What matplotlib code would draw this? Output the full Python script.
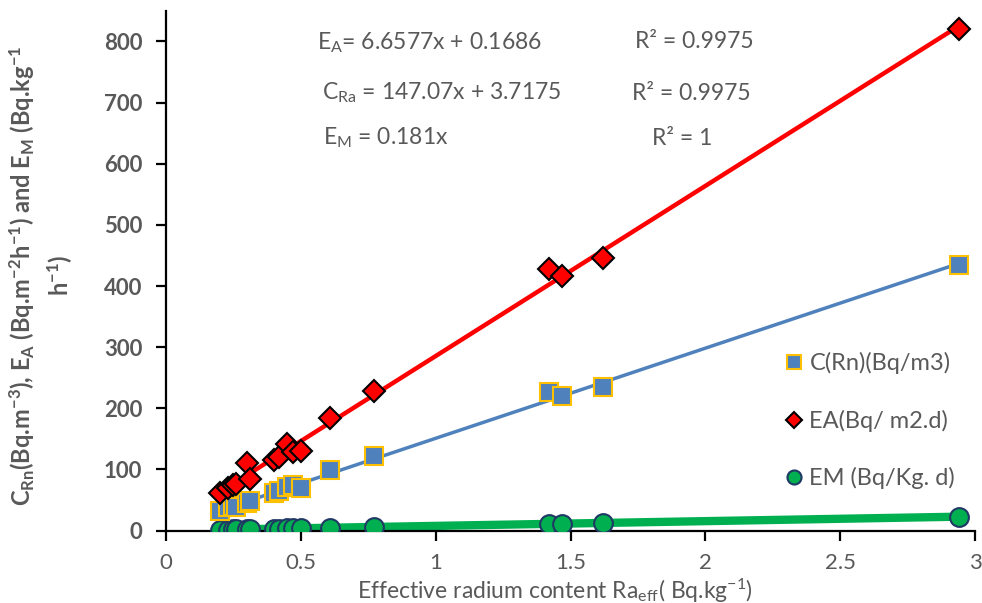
import numpy as np
import matplotlib
matplotlib.use("Agg")
from matplotlib import pyplot as plt

plt.rcParams['font.family'] = ['Lato', 'DejaVu Sans']
plt.rcParams['mathtext.default'] = 'regular'

# effective radium content (Bq/kg)
ra_eff = [0.20, 0.23, 0.25, 0.26, 0.30, 0.31, 0.40, 0.42, 0.45, 0.47, 0.50,
          0.61, 0.77, 1.42, 1.47, 1.62, 2.94]
# radon concentration C(Rn) (Bq/m3)
c_rn = [32, 38, 40, 39, 45, 48, 62, 65, 72, 74, 70, 99, 122, 226, 220, 235, 434]
# area exhalation rate EA
e_a = [61, 69, 75, 77, 110, 85, 115, 120, 142, 128, 131, 184, 228, 428, 416, 446, 820]
# mass exhalation rate EM
e_m = [1.6, 1.8, 2.0, 2.1, 2.4, 2.5, 3.2, 3.3, 3.5, 3.6, 3.9, 4.7, 6.0,
       11.1, 11.4, 12.6, 22.8]

x_ticks = [0, 0.5, 1, 1.5, 2, 2.5, 3]
x_tick_labels = ['0', '0.5', '1', '1.5', '2', '2.5', '3']
y_ticks = [0, 100, 200, 300, 400, 500, 600, 700, 800]

gray = '#595959'

fig = plt.figure(figsize=(9.82, 6.03), dpi=100)
ax = fig.add_axes([0.169, 0.12, 0.824, 0.862])

x = np.array(ra_eff)
xs = np.array([x.min(), x.max()])

# trend lines
for yv, col, lw in [(e_m, '#00B050', 6), (c_rn, '#4F81BD', 2.5), (e_a, '#FF0000', 3.2)]:
    k, b = np.polyfit(x, yv, 1)
    ax.plot(xs, k * xs + b, color=col, lw=lw, zorder=2, solid_capstyle='butt')

ax.plot(x, e_m, 'o', ms=13.5, mfc='#00B050', mec='#1F3864', mew=1.5,
        ls='none', zorder=3, label='EM (Bq/Kg. d)')
ax.plot(x, c_rn, 's', ms=13.5, mfc='#4F81BD', mec='#FFC000', mew=1.5,
        ls='none', zorder=4, label='C(Rn)(Bq/m3)')
ax.plot(x, e_a, 'D', ms=11.5, mfc='#FF0000', mec='black', mew=1.5,
        ls='none', zorder=5, label='EA(Bq/ m2.d)')

ax.set_xlim(0, 3)
ax.set_ylim(0, 850)
ax.set_xticks(x_ticks)
ax.set_xticklabels(x_tick_labels)
ax.set_yticks(y_ticks)

for s in ['top', 'right']:
    ax.spines[s].set_visible(False)
for s in ['left', 'bottom']:
    ax.spines[s].set_linewidth(1.6)
    ax.spines[s].set_color('black')

ax.tick_params(axis='x', direction='out', length=7, width=1.6, pad=9,
               labelsize=16, labelcolor=gray)
ax.tick_params(axis='y', direction='out', length=7, width=1.6, pad=10,
               labelsize=16, labelcolor=gray)
for lab in ax.get_yticklabels():
    lab.set_fontweight('bold')

ax.set_xlabel(r'Effective radium content Ra$_{eff}$( Bq.kg$^{-1}$)',
              fontsize=16.5, color=gray)
ax.xaxis.set_label_coords(0.481, -0.088)
ax.set_ylabel('C$_{Rn}$(Bq.m$^{-3}$), E$_A$ (Bq.m$^{-2}$h$^{-1}$) and E$_M$ (Bq.kg$^{-1}$\nh$^{-1}$)',
              fontsize=17, color=gray, fontweight='bold', linespacing=1.35)
ax.yaxis.set_label_coords(-0.112, 0.49)

# regression equations
eq_kw = dict(fontsize=16.5, color=gray, transform=fig.transFigure, va='center')
fig.text(317 / 982, 1 - 43 / 603, 'E$_A$= 6.6577x + 0.1686', **eq_kw)
fig.text(635 / 982, 1 - 42 / 603, 'R² = 0.9975', **eq_kw)
fig.text(322 / 982, 1 - 93 / 603, 'C$_{Ra}$ = 147.07x + 3.7175', **eq_kw)
fig.text(632 / 982, 1 - 93 / 603, 'R² = 0.9975', **eq_kw)
fig.text(323 / 982, 1 - 138 / 603, 'E$_M$ = 0.181x', **eq_kw)
fig.text(652 / 982, 1 - 138 / 603, 'R² = 1', **eq_kw)

handles, labels = ax.get_legend_handles_labels()
order = [1, 2, 0]
leg = ax.legend([handles[i] for i in order], [labels[i] for i in order],
                loc='upper left', bbox_to_anchor=(761 / 982, 1 - 331 / 603),
                bbox_transform=fig.transFigure, frameon=False, fontsize=17,
                labelspacing=1.5, handletextpad=0.15, markerscale=0.75,
                handlelength=1.0)
for t in leg.get_texts():
    t.set_color(gray)

fig.savefig('out.png', dpi=100)
